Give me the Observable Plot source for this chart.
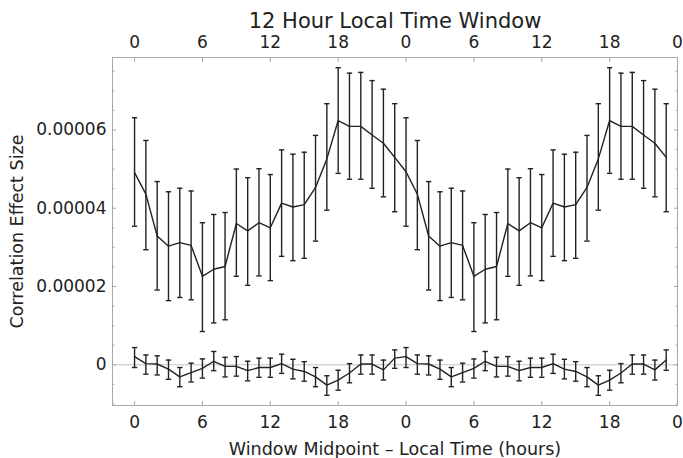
<!DOCTYPE html>
<html><head><meta charset="utf-8">
<script src="https://cdn.jsdelivr.net/npm/d3@7"></script>
<script src="https://cdn.jsdelivr.net/npm/@observablehq/plot@0.6"></script>
<style>body{margin:0;background:#fff}</style>
</head><body><div id="chart"></div>
<script>
// Window midpoint hours (two repeated days)
const hours = [0,1,2,3,4,5,6,7,8,9,10,11,12,13,14,15,16,17,18,19,20,21,22,23,
               24,25,26,27,28,29,30,31,32,33,34,35,36,37,38,39,40,41,42,43,44,45,46,47];
// Values in units of 1e-5
const UNIT = 1e-5;
const upperMean = [4.91,4.36,3.29,3.03,3.12,3.05,2.26,2.44,2.51,3.61,3.42,3.63,3.50,4.13,4.03,4.09,4.53,5.26,6.24,6.09,6.09,5.87,5.66,5.30,
                   4.93,4.36,3.29,3.03,3.12,3.05,2.26,2.44,2.51,3.61,3.42,3.63,3.50,4.13,4.03,4.09,4.53,5.26,6.24,6.09,6.09,5.87,5.66,5.30];
const upperHigh = [6.31,5.73,4.68,4.42,4.51,4.44,3.63,3.84,3.89,5.00,4.78,5.01,4.86,5.49,5.38,5.43,5.86,6.67,7.59,7.45,7.47,7.26,7.04,6.67,
                   6.31,5.73,4.68,4.42,4.51,4.44,3.63,3.84,3.89,5.00,4.78,5.01,4.86,5.49,5.38,5.43,5.86,6.67,7.59,7.45,7.47,7.26,7.04,6.67];
const upperLow  = [3.54,2.94,1.91,1.64,1.72,1.66,0.85,1.07,1.15,2.26,2.03,2.27,2.15,2.77,2.66,2.72,3.16,3.95,4.89,4.74,4.74,4.51,4.29,3.91,
                   3.54,2.94,1.91,1.64,1.72,1.66,0.85,1.07,1.15,2.26,2.03,2.27,2.15,2.77,2.66,2.72,3.16,3.95,4.89,4.74,4.74,4.51,4.29,3.91];
const lowerMean = [0.21,0.03,0.02,-0.11,-0.31,-0.20,-0.09,0.09,-0.04,-0.04,-0.15,-0.07,-0.07,0.03,-0.11,-0.17,-0.31,-0.52,-0.39,-0.21,0.02,0.02,-0.13,0.17,
                   0.21,0.03,0.02,-0.11,-0.31,-0.20,-0.09,0.09,-0.04,-0.04,-0.15,-0.07,-0.07,0.03,-0.11,-0.17,-0.31,-0.52,-0.39,-0.21,0.02,0.02,-0.13,0.12];
const lowerHigh = [0.44,0.25,0.23,0.12,-0.07,0.04,0.15,0.34,0.19,0.21,0.09,0.17,0.17,0.27,0.14,0.08,-0.07,-0.28,-0.14,0.03,0.25,0.25,0.12,0.38,
                   0.44,0.25,0.23,0.12,-0.07,0.04,0.15,0.34,0.19,0.21,0.09,0.17,0.17,0.27,0.14,0.08,-0.07,-0.28,-0.14,0.03,0.25,0.25,0.12,0.38];
const lowerLow  = [-0.07,-0.24,-0.26,-0.37,-0.56,-0.44,-0.34,-0.15,-0.31,-0.29,-0.41,-0.32,-0.32,-0.22,-0.36,-0.42,-0.56,-0.78,-0.65,-0.46,-0.24,-0.24,-0.39,-0.09,
                   -0.07,-0.24,-0.26,-0.37,-0.56,-0.44,-0.34,-0.15,-0.31,-0.29,-0.41,-0.32,-0.32,-0.22,-0.36,-0.42,-0.56,-0.78,-0.65,-0.46,-0.24,-0.24,-0.39,-0.14];

const xTicks = [0,6,12,18,24,30,36,42,48];
const yTicks = [0, 0.00002, 0.00004, 0.00006];
const yMinorTicks = [-0.00001,-0.000005,0.000005,0.00001,0.000015,0.000025,0.00003,0.000035,0.000045,0.00005,0.000055,0.000065,0.00007,0.000075];
const topLabel = "12 Hour Local Time Window";
const xLabel = "Window Midpoint – Local Time (hours)";
const yLabel = "Correlation Effect Size";

const rows = [];
hours.forEach((h, i) => {
  rows.push({series: "effect", hour: h, mean: upperMean[i]*UNIT, high: upperHigh[i]*UNIT, low: upperLow[i]*UNIT});
  rows.push({series: "control", hour: h, mean: lowerMean[i]*UNIT, high: lowerHigh[i]*UNIT, low: lowerLow[i]*UNIT});
});

const capSymbol = {draw(ctx, size) { const w = Math.sqrt(size); ctx.moveTo(-w, 0); ctx.lineTo(w, 0); }};
const ink = "#222";
const frameGray = "#a8a8a8";
const fmtY = d => d === 0 ? "0" : d.toFixed(5);

const chart = Plot.plot({
  width: 683, height: 458,
  marginLeft: 112, marginRight: 6, marginTop: 57, marginBottom: 53,
  style: {fontFamily: "'DejaVu Sans', sans-serif", fontSize: "17px", color: ink, background: "#fff"},
  x: {domain: [-1.95, 48]},
  y: {domain: [-0.0000104, 0.0000785]},
  marks: [
    Plot.ruleY([0], {stroke: "#c4c4c4", strokeWidth: 1}),
    Plot.frame({stroke: frameGray, strokeWidth: 1}),
    // inward tick marks
    Plot.axisY(yTicks, {anchor: "left", tickSize: 4, dx: 4, fill: "none", stroke: frameGray, label: null}),
    Plot.axisY(yMinorTicks, {anchor: "left", tickSize: 2.5, dx: 2.5, fill: "none", stroke: frameGray, label: null}),
    Plot.axisY(yTicks, {anchor: "right", tickSize: 4, dx: -4, fill: "none", stroke: frameGray, label: null}),
    Plot.axisY(yMinorTicks, {anchor: "right", tickSize: 2.5, dx: -2.5, fill: "none", stroke: frameGray, label: null}),
    Plot.axisX(xTicks, {anchor: "bottom", tickSize: 4, dy: -4, fill: "none", stroke: frameGray, label: null}),
    Plot.axisX(xTicks, {anchor: "top", tickSize: 4, dy: 4, fill: "none", stroke: frameGray, label: null}),
    // tick labels
    Plot.axisY(yTicks, {anchor: "left", tickSize: 0, tickPadding: 6, tickFormat: fmtY, fontSize: 17, fill: ink, label: null}),
    Plot.axisX(xTicks, {anchor: "bottom", tickSize: 0, tickPadding: 10, tickFormat: d => d % 24, fontSize: 17, fill: ink, label: null}),
    Plot.axisX(xTicks, {anchor: "top", tickSize: 0, tickPadding: 10, tickFormat: d => d % 24, fontSize: 17, fill: ink, label: null}),
    // titles
    Plot.text([topLabel], {text: d => d, frameAnchor: "top", dy: -30, lineAnchor: "bottom", fontSize: 21, fill: ink}),
    Plot.text([xLabel], {text: d => d, frameAnchor: "bottom", dy: 49, lineAnchor: "bottom", fontSize: 17.5, fill: ink}),
    Plot.text([yLabel], {text: d => d, frameAnchor: "left", dx: -102, rotate: -90, textAnchor: "middle", lineAnchor: "top", fontSize: 17.5, fill: ink}),
    // data
    Plot.ruleX(rows, {x: "hour", y1: "low", y2: "high", stroke: ink, strokeWidth: 1.4}),
    Plot.dot(rows, {x: "hour", y: "high", symbol: capSymbol, r: 1.5, stroke: ink, strokeWidth: 1.4, fill: "none"}),
    Plot.dot(rows, {x: "hour", y: "low", symbol: capSymbol, r: 1.5, stroke: ink, strokeWidth: 1.4, fill: "none"}),
    Plot.line(rows, {x: "hour", y: "mean", z: "series", stroke: ink, strokeWidth: 1.4})
  ]
});
document.getElementById("chart").appendChild(chart);
</script>
</body></html>
